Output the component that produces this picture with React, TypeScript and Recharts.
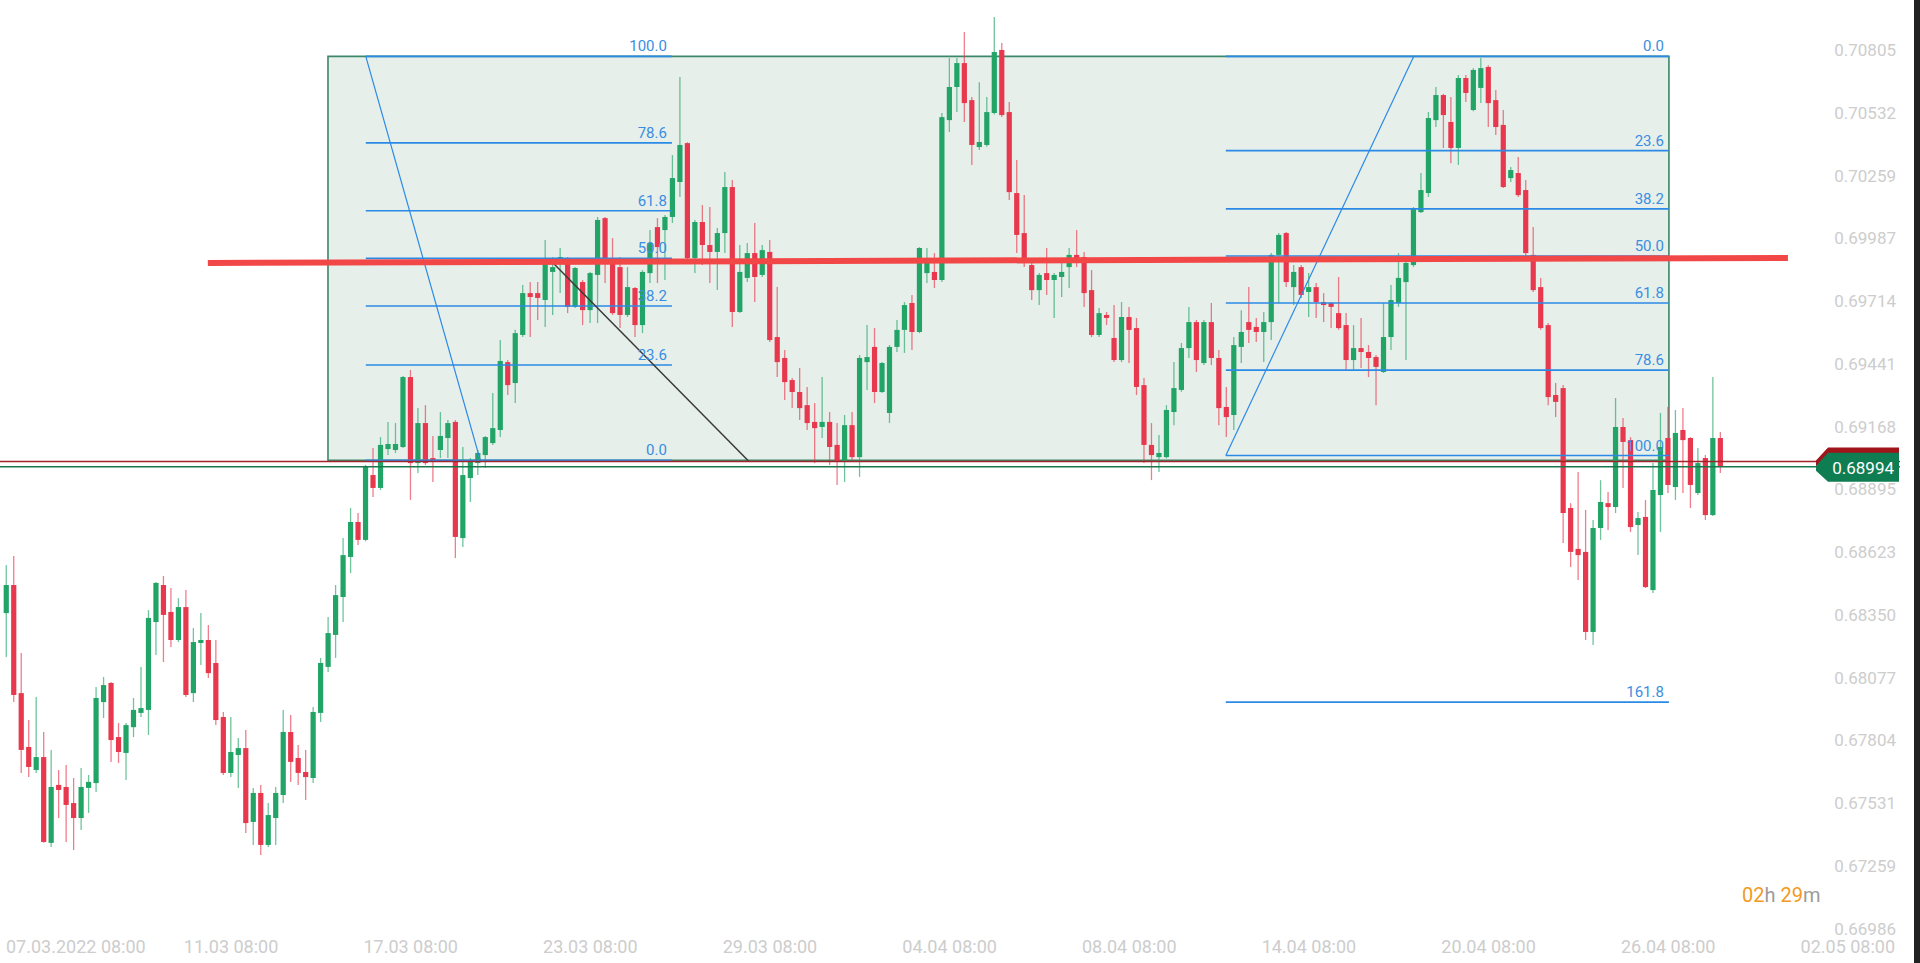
import React from 'react';
import { ComposedChart, Bar, XAxis, YAxis, ReferenceLine, ReferenceArea } from 'recharts';

// 4H candles [open, high, low, close]
const CANDLES_OHLC: [number, number, number, number][] = [
  [0.68358, 0.68567, 0.68167, 0.68480], [0.68480, 0.68606, 0.67971, 0.68002], [0.68010, 0.68184, 0.67663, 0.67763], [0.67776, 0.67893, 0.67645, 0.67689],
  [0.67676, 0.67993, 0.67663, 0.67732], [0.67732, 0.67841, 0.67359, 0.67363], [0.67359, 0.67763, 0.67341, 0.67602], [0.67611, 0.67676, 0.67467, 0.67589],
  [0.67602, 0.67698, 0.67363, 0.67524], [0.67532, 0.67641, 0.67328, 0.67467], [0.67467, 0.67685, 0.67415, 0.67602], [0.67598, 0.67654, 0.67489, 0.67624],
  [0.67619, 0.68037, 0.67580, 0.67989], [0.67971, 0.68080, 0.67902, 0.68045], [0.68054, 0.68058, 0.67711, 0.67806], [0.67819, 0.67880, 0.67706, 0.67754],
  [0.67750, 0.67880, 0.67632, 0.67871], [0.67862, 0.67989, 0.67819, 0.67937], [0.67924, 0.68124, 0.67906, 0.67945], [0.67937, 0.68371, 0.67828, 0.68337],
  [0.68319, 0.68493, 0.68176, 0.68489], [0.68480, 0.68519, 0.68145, 0.68350], [0.68363, 0.68467, 0.68211, 0.68241], [0.68241, 0.68423, 0.68232, 0.68384],
  [0.68384, 0.68458, 0.67993, 0.68002], [0.68010, 0.68293, 0.67971, 0.68232], [0.68228, 0.68358, 0.68132, 0.68241], [0.68241, 0.68306, 0.68076, 0.68097],
  [0.68141, 0.68241, 0.67871, 0.67893], [0.67906, 0.67928, 0.67654, 0.67663], [0.67663, 0.67906, 0.67645, 0.67754], [0.67741, 0.67815, 0.67598, 0.67771],
  [0.67771, 0.67850, 0.67402, 0.67445], [0.67450, 0.67598, 0.67350, 0.67576], [0.67576, 0.67611, 0.67306, 0.67350], [0.67350, 0.67532, 0.67341, 0.67480],
  [0.67467, 0.67602, 0.67350, 0.67576], [0.67567, 0.67937, 0.67532, 0.67841], [0.67841, 0.67915, 0.67624, 0.67711], [0.67728, 0.67785, 0.67611, 0.67663],
  [0.67667, 0.67763, 0.67545, 0.67645], [0.67641, 0.67950, 0.67619, 0.67928], [0.67924, 0.68163, 0.67885, 0.68141], [0.68124, 0.68341, 0.68102, 0.68271],
  [0.68263, 0.68480, 0.68163, 0.68436], [0.68428, 0.68684, 0.68319, 0.68610], [0.68602, 0.68815, 0.68532, 0.68754], [0.68754, 0.68793, 0.68654, 0.68676],
  [0.68676, 0.69002, 0.68670, 0.68993], [0.68958, 0.69076, 0.68863, 0.68902], [0.68902, 0.69123, 0.68893, 0.69089], [0.69071, 0.69189, 0.69045, 0.69093],
  [0.69067, 0.69184, 0.69054, 0.69093], [0.69080, 0.69389, 0.69076, 0.69384], [0.69384, 0.69415, 0.68850, 0.69010], [0.69010, 0.69249, 0.68967, 0.69184],
  [0.69184, 0.69262, 0.69002, 0.69010], [0.69032, 0.69128, 0.68928, 0.69015], [0.69067, 0.69232, 0.69032, 0.69128], [0.69119, 0.69197, 0.69032, 0.69184],
  [0.69189, 0.69197, 0.68597, 0.68689], [0.68684, 0.69080, 0.68645, 0.68958], [0.68945, 0.69032, 0.68841, 0.69015], [0.69010, 0.69067, 0.68958, 0.69054],
  [0.69045, 0.69128, 0.68989, 0.69123], [0.69097, 0.69315, 0.69089, 0.69162], [0.69154, 0.69545, 0.69123, 0.69454], [0.69449, 0.69458, 0.69306, 0.69349],
  [0.69358, 0.69590, 0.69271, 0.69575], [0.69567, 0.69784, 0.69558, 0.69749], [0.69749, 0.69797, 0.69558, 0.69732], [0.69749, 0.69797, 0.69632, 0.69728],
  [0.69719, 0.69980, 0.69602, 0.69880], [0.69841, 0.69906, 0.69654, 0.69862], [0.69893, 0.69945, 0.69749, 0.69906], [0.69893, 0.69906, 0.69662, 0.69689],
  [0.69689, 0.69862, 0.69684, 0.69858], [0.69797, 0.69806, 0.69610, 0.69675], [0.69675, 0.69841, 0.69619, 0.69836], [0.69828, 0.70080, 0.69619, 0.70067],
  [0.70075, 0.70080, 0.69793, 0.69893], [0.69901, 0.69988, 0.69654, 0.69662], [0.69862, 0.69906, 0.69597, 0.69654], [0.69654, 0.69862, 0.69645, 0.69775],
  [0.69771, 0.69775, 0.69558, 0.69610], [0.69610, 0.69849, 0.69575, 0.69841], [0.69836, 0.70023, 0.69793, 0.69967], [0.70036, 0.70075, 0.69793, 0.69949],
  [0.70023, 0.70088, 0.69806, 0.70080], [0.70080, 0.70349, 0.70054, 0.70249], [0.70232, 0.70688, 0.70167, 0.70393], [0.70401, 0.70405, 0.69895, 0.69901],
  [0.69901, 0.70067, 0.69836, 0.70058], [0.70058, 0.70132, 0.69871, 0.69958], [0.69958, 0.70123, 0.69793, 0.69928], [0.69928, 0.70032, 0.69762, 0.70010],
  [0.70010, 0.70275, 0.69923, 0.70210], [0.70210, 0.70241, 0.69602, 0.69667], [0.69667, 0.69958, 0.69662, 0.69841], [0.69815, 0.69967, 0.69797, 0.69923],
  [0.69923, 0.70054, 0.69710, 0.69819], [0.69828, 0.69958, 0.69819, 0.69936], [0.69928, 0.69980, 0.69536, 0.69545], [0.69558, 0.69775, 0.69384, 0.69449],
  [0.69467, 0.69502, 0.69284, 0.69362], [0.69371, 0.69380, 0.69249, 0.69319], [0.69319, 0.69423, 0.69197, 0.69249], [0.69262, 0.69341, 0.69154, 0.69184],
  [0.69189, 0.69271, 0.69010, 0.69162], [0.69167, 0.69384, 0.69119, 0.69189], [0.69189, 0.69232, 0.69002, 0.69080], [0.69089, 0.69184, 0.68915, 0.69015],
  [0.69015, 0.69219, 0.68928, 0.69175], [0.69175, 0.69232, 0.69023, 0.69036], [0.69036, 0.69480, 0.68950, 0.69467], [0.69449, 0.69610, 0.69328, 0.69471],
  [0.69515, 0.69597, 0.69271, 0.69319], [0.69319, 0.69449, 0.69315, 0.69445], [0.69228, 0.69523, 0.69184, 0.69515], [0.69515, 0.69632, 0.69493, 0.69589],
  [0.69589, 0.69710, 0.69489, 0.69697], [0.69706, 0.69741, 0.69502, 0.69580], [0.69580, 0.69949, 0.69575, 0.69945], [0.69836, 0.69945, 0.69793, 0.69880],
  [0.69841, 0.69923, 0.69771, 0.69806], [0.69806, 0.70532, 0.69797, 0.70514], [0.70501, 0.70771, 0.70449, 0.70645], [0.70645, 0.70771, 0.70536, 0.70749],
  [0.70749, 0.70884, 0.70493, 0.70575], [0.70588, 0.70601, 0.70306, 0.70393], [0.70384, 0.70666, 0.70371, 0.70406], [0.70393, 0.70601, 0.70385, 0.70536],
  [0.70532, 0.70949, 0.70525, 0.70797], [0.70806, 0.70836, 0.70515, 0.70523], [0.70536, 0.70580, 0.70154, 0.70188], [0.70184, 0.70328, 0.69923, 0.70002],
  [0.70010, 0.70175, 0.69862, 0.69880], [0.69871, 0.69880, 0.69719, 0.69762], [0.69762, 0.69836, 0.69697, 0.69828], [0.69836, 0.69945, 0.69741, 0.69806],
  [0.69806, 0.69836, 0.69641, 0.69828], [0.69819, 0.69893, 0.69732, 0.69841], [0.69862, 0.69945, 0.69771, 0.69915], [0.69915, 0.70023, 0.69862, 0.69901],
  [0.69906, 0.69928, 0.69689, 0.69749], [0.69762, 0.69849, 0.69558, 0.69567], [0.69567, 0.69684, 0.69558, 0.69662], [0.69654, 0.69667, 0.69610, 0.69641],
  [0.69554, 0.69697, 0.69449, 0.69458], [0.69458, 0.69710, 0.69449, 0.69645], [0.69645, 0.69689, 0.69445, 0.69589], [0.69597, 0.69641, 0.69306, 0.69341],
  [0.69349, 0.69380, 0.69010, 0.69089], [0.69089, 0.69184, 0.68936, 0.69045], [0.69036, 0.69132, 0.68971, 0.69054], [0.69036, 0.69262, 0.69030, 0.69241],
  [0.69232, 0.69449, 0.69175, 0.69336], [0.69328, 0.69532, 0.69320, 0.69510], [0.69510, 0.69689, 0.69467, 0.69623], [0.69623, 0.69632, 0.69406, 0.69458],
  [0.69445, 0.69632, 0.69436, 0.69623], [0.69623, 0.69706, 0.69436, 0.69467], [0.69467, 0.69502, 0.69175, 0.69249], [0.69254, 0.69341, 0.69123, 0.69210],
  [0.69219, 0.69558, 0.69154, 0.69523], [0.69515, 0.69675, 0.69445, 0.69580], [0.69623, 0.69775, 0.69532, 0.69589], [0.69602, 0.69641, 0.69536, 0.69580],
  [0.69580, 0.69667, 0.69449, 0.69623], [0.69623, 0.69923, 0.69545, 0.69915], [0.69915, 0.70010, 0.69706, 0.70002], [0.70010, 0.70015, 0.69775, 0.69797],
  [0.69775, 0.69871, 0.69697, 0.69841], [0.69862, 0.69871, 0.69728, 0.69741], [0.69754, 0.69836, 0.69645, 0.69775], [0.69775, 0.69793, 0.69641, 0.69710],
  [0.69710, 0.69749, 0.69623, 0.69697], [0.69706, 0.69710, 0.69597, 0.69689], [0.69662, 0.69819, 0.69589, 0.69597], [0.69610, 0.69662, 0.69415, 0.69458],
  [0.69458, 0.69610, 0.69415, 0.69510], [0.69510, 0.69641, 0.69423, 0.69493], [0.69493, 0.69523, 0.69384, 0.69467], [0.69471, 0.69480, 0.69262, 0.69428],
  [0.69406, 0.69706, 0.69402, 0.69558], [0.69558, 0.69784, 0.69502, 0.69719], [0.69706, 0.69923, 0.69689, 0.69815], [0.69797, 0.69884, 0.69458, 0.69880],
  [0.69871, 0.70123, 0.69862, 0.70119], [0.70101, 0.70271, 0.70097, 0.70197], [0.70184, 0.70536, 0.70167, 0.70510], [0.70501, 0.70645, 0.70471, 0.70610],
  [0.70610, 0.70615, 0.70380, 0.70523], [0.70493, 0.70601, 0.70314, 0.70380], [0.70380, 0.70697, 0.70306, 0.70684], [0.70684, 0.70697, 0.70580, 0.70619],
  [0.70545, 0.70727, 0.70540, 0.70719], [0.70641, 0.70771, 0.70575, 0.70727], [0.70732, 0.70740, 0.70471, 0.70575], [0.70588, 0.70632, 0.70436, 0.70471],
  [0.70480, 0.70545, 0.70206, 0.70210], [0.70249, 0.70297, 0.70232, 0.70284], [0.70271, 0.70341, 0.70167, 0.70175], [0.70197, 0.70241, 0.69906, 0.69923],
  [0.69915, 0.70036, 0.69754, 0.69762], [0.69775, 0.69815, 0.69590, 0.69597], [0.69610, 0.69619, 0.69262, 0.69297], [0.69306, 0.69358, 0.69210, 0.69276],
  [0.69336, 0.69349, 0.68663, 0.68793], [0.68815, 0.68836, 0.68558, 0.68624], [0.68637, 0.68971, 0.68502, 0.68610], [0.68624, 0.68806, 0.68241, 0.68276],
  [0.68276, 0.68763, 0.68219, 0.68728], [0.68728, 0.68936, 0.68676, 0.68841], [0.68836, 0.68884, 0.68719, 0.68819], [0.68819, 0.69293, 0.68793, 0.69167],
  [0.69167, 0.69206, 0.68902, 0.69102], [0.69110, 0.69123, 0.68710, 0.68732], [0.68741, 0.68797, 0.68610, 0.68771], [0.68776, 0.68850, 0.68467, 0.68471],
  [0.68458, 0.69010, 0.68445, 0.68893], [0.68871, 0.69228, 0.68710, 0.69080], [0.69119, 0.69254, 0.68880, 0.68915], [0.68906, 0.69241, 0.68850, 0.69141],
  [0.69154, 0.69249, 0.68880, 0.69110], [0.69119, 0.69123, 0.68815, 0.68915], [0.68880, 0.69076, 0.68871, 0.69010], [0.69032, 0.69045, 0.68763, 0.68784],
  [0.68784, 0.69384, 0.68780, 0.69119], [0.69119, 0.69145, 0.68967, 0.68994],
];

const DATE_TICKS = [6, 30, 54, 78, 102, 126, 150, 174, 198, 222, 246];
const DATE_LABELS = ['07.03.2022 08:00', '11.03 08:00', '17.03 08:00', '23.03 08:00', '29.03 08:00', '04.04 08:00', '08.04 08:00', '14.04 08:00', '20.04 08:00', '26.04 08:00', '02.05 08:00'];
const PRICE_TICKS = [0.70805, 0.70532, 0.70259, 0.69987, 0.69714, 0.69441, 0.69168, 0.68895, 0.68623, 0.6835, 0.68077, 0.67804, 0.67531, 0.67259, 0.66986];

const X_DOMAIN: [number, number] = [-0.868, 252.97];
const Y_DOMAIN: [number, number] = [0.669585, 0.710232];

// drawings (index / price anchors)
const BOX = { i1: 42.95, i2: 222.1, p1: 0.69022, p2: 0.70778 };
const LEFT_FIB = { i1: 48, i2: 88.9, low: 0.69022, high: 0.70778 };
const LEFT_FIB_LEVELS = [100.0, 78.6, 61.8, 50.0, 38.2, 23.6, 0.0];
const RIGHT_FIB = { i1: 162.9, i2: 222.1, low: 0.69043, high: 0.70778 };
const RIGHT_FIB_LEVELS = [0.0, 23.6, 38.2, 50.0, 61.8, 78.6, 100.0, 161.8];
const LEFT_FIB_TREND = [{ i: 48, p: 0.70778 }, { i: 63.3, p: 0.69022 }];
const RIGHT_FIB_TREND = [{ i: 162.9, p: 0.69043 }, { i: 188.0, p: 0.70778 }];
const BLACK_TREND = [{ i: 72.6, p: 0.69894 }, { i: 99.1, p: 0.6902 }];
const RED_LEVEL = [{ i: 26.9, p: 0.6988 }, { i: 238.0, p: 0.69902 }];
const ASK_PRICE = 0.69017;
const BID_PRICE = 0.68994;

const GREEN = '#22a467';
const RED = '#e8384d';
const FIB_BLUE = '#2b8ae6';
const FIB_TEXT = '#3a8ee0';
const TICK_GRAY = '#cdcdcd';

const data = CANDLES_OHLC.map(([o, h, l, c], i) => ({ i, o, h, l, c, range: [l, h] }));

const Candle = (props: any) => {
  const { x, y, width, height, payload } = props;
  if (!payload || x == null || y == null) return null;
  const top = Math.min(y, y + height);
  const bottom = Math.max(y, y + height);
  const { o, h, l, c } = payload;
  const span = h - l || 1e-9;
  const toY = (v: number) => top + ((h - v) / span) * (bottom - top);
  const up = c >= o;
  const color = up ? GREEN : RED;
  const cx = x + width / 2;
  const yo = toY(o);
  const yc = toY(c);
  const bt = Math.min(yo, yc);
  const bh = Math.max(1.2, Math.abs(yo - yc));
  return (
    <g>
      <line x1={cx} x2={cx} y1={top} y2={bottom} stroke={color} strokeOpacity={0.65} strokeWidth={1.3} />
      <rect x={cx - 2.6} y={bt} width={5.2} height={bh} fill={color} />
    </g>
  );
};

const DateTick = (props: any) => {
  const { x, y, payload } = props;
  const idx = DATE_TICKS.indexOf(payload.value);
  const first = idx === 0;
  return (
    <text x={first ? 6 : x} y={y} dy={10} textAnchor={first ? 'start' : 'middle'} fill={TICK_GRAY} fontSize={18} fontFamily="Roboto">
      {DATE_LABELS[idx]}
    </text>
  );
};

const PriceTick = (props: any) => {
  const { x, y, payload } = props;
  return (
    <text x={x - 4} y={y} dy="0.35em" textAnchor="end" fill={TICK_GRAY} fontSize={17} fontFamily="Roboto">
      {Number(payload.value).toFixed(5)}
    </text>
  );
};

const makeTag = (fill: string, text: string | null) => (props: any) => {
  const vb = props.viewBox || {};
  const right = (vb.x || 0) + (vb.width || 0);
  const yy = vb.y || 0;
  const x0 = right - 84;
  const pts = `${x0},${yy - 1} ${x0 + 12},${yy - 14} ${right - 1},${yy - 14} ${right - 1},${yy + 15} ${x0 + 12},${yy + 15} ${x0},${yy + 4}`;
  return (
    <g>
      <polygon points={pts} fill={fill} />
      {text && (
        <text x={right - 6} y={yy + 1} dy="0.35em" textAnchor="end" fill="#ffffff" fontSize={17} fontFamily="Roboto">
          {text}
        </text>
      )}
    </g>
  );
};

const fibPrice = (low: number, high: number, lvl: number, inverted: boolean) =>
  inverted ? high - (lvl / 100) * (high - low) : low + (lvl / 100) * (high - low);

export default function App() {
  return (
    <div style={{ position: 'absolute', left: 0, top: 0, width: 1920, height: 963, background: '#ffffff', fontFamily: 'Roboto, sans-serif' }}>
      <ComposedChart width={1920} height={963} data={data} margin={{ top: 0, right: 0, bottom: 0, left: 0 }}>
        <XAxis
          dataKey="i"
          type="number"
          domain={X_DOMAIN}
          allowDataOverflow
          ticks={DATE_TICKS}
          tick={<DateTick />}
          axisLine={false}
          tickLine={false}
          height={28}
          interval={0}
        />
        <YAxis
          type="number"
          orientation="right"
          width={20}
          domain={Y_DOMAIN}
          allowDataOverflow
          ticks={PRICE_TICKS}
          tick={<PriceTick />}
          axisLine={false}
          tickLine={false}
          tickSize={0}
          tickMargin={0}
          interval={0}
        />
        <ReferenceArea
          x1={BOX.i1}
          x2={BOX.i2}
          y1={BOX.p1}
          y2={BOX.p2}
          fill="#e7efeb"
          fillOpacity={1}
          stroke="#3a8868"
          strokeWidth={1.6}
        />
        <Bar dataKey="range" barSize={5} shape={<Candle />} isAnimationActive={false} />
        {LEFT_FIB_LEVELS.map((lvl) => {
          const p = fibPrice(LEFT_FIB.low, LEFT_FIB.high, lvl, false);
          return (
            <ReferenceLine
              key={'lf' + lvl}
              segment={[{ x: LEFT_FIB.i1, y: p }, { x: LEFT_FIB.i2, y: p }]}
              stroke={FIB_BLUE}
              strokeWidth={1.6}
              label={{ value: lvl.toFixed(1), position: 'insideBottomRight', offset: 5, fill: FIB_TEXT, fontSize: 15 }}
            />
          );
        })}
        {RIGHT_FIB_LEVELS.map((lvl) => {
          const p = fibPrice(RIGHT_FIB.low, RIGHT_FIB.high, lvl, true);
          return (
            <ReferenceLine
              key={'rf' + lvl}
              segment={[{ x: RIGHT_FIB.i1, y: p }, { x: RIGHT_FIB.i2, y: p }]}
              stroke={FIB_BLUE}
              strokeWidth={1.6}
              label={{ value: lvl.toFixed(1), position: 'insideBottomRight', offset: 5, fill: FIB_TEXT, fontSize: 15 }}
            />
          );
        })}
        <ReferenceLine segment={LEFT_FIB_TREND.map((d) => ({ x: d.i, y: d.p }))} stroke={FIB_BLUE} strokeWidth={1.2} />
        <ReferenceLine segment={RIGHT_FIB_TREND.map((d) => ({ x: d.i, y: d.p }))} stroke={FIB_BLUE} strokeWidth={1.2} />
        <ReferenceLine segment={BLACK_TREND.map((d) => ({ x: d.i, y: d.p }))} stroke="#3a3a3a" strokeWidth={1.5} />
        <ReferenceLine segment={RED_LEVEL.map((d) => ({ x: d.i, y: d.p }))} stroke="#f24747" strokeWidth={6} />
        <ReferenceLine y={ASK_PRICE} stroke="#a3232a" strokeWidth={1.5} label={{ content: makeTag('#a0151a', null) }} />
        <ReferenceLine y={BID_PRICE} stroke="#18774c" strokeWidth={1.5} label={{ content: makeTag('#0f7d52', BID_PRICE.toFixed(5)) }} />
      </ComposedChart>
      <div style={{ position: 'absolute', left: 1742, top: 882, fontSize: 20, lineHeight: '26px', fontFamily: 'Roboto', whiteSpace: 'nowrap' }}>
        <span style={{ color: '#f29a1f' }}>02</span>
        <span style={{ color: '#9b9b9b' }}>h </span>
        <span style={{ color: '#f29a1f' }}>29</span>
        <span style={{ color: '#9b9b9b' }}>m</span>
      </div>
      <div style={{ position: 'absolute', left: 1914, top: 0, width: 6, height: 963, background: '#222222' }} />
    </div>
  );
}
